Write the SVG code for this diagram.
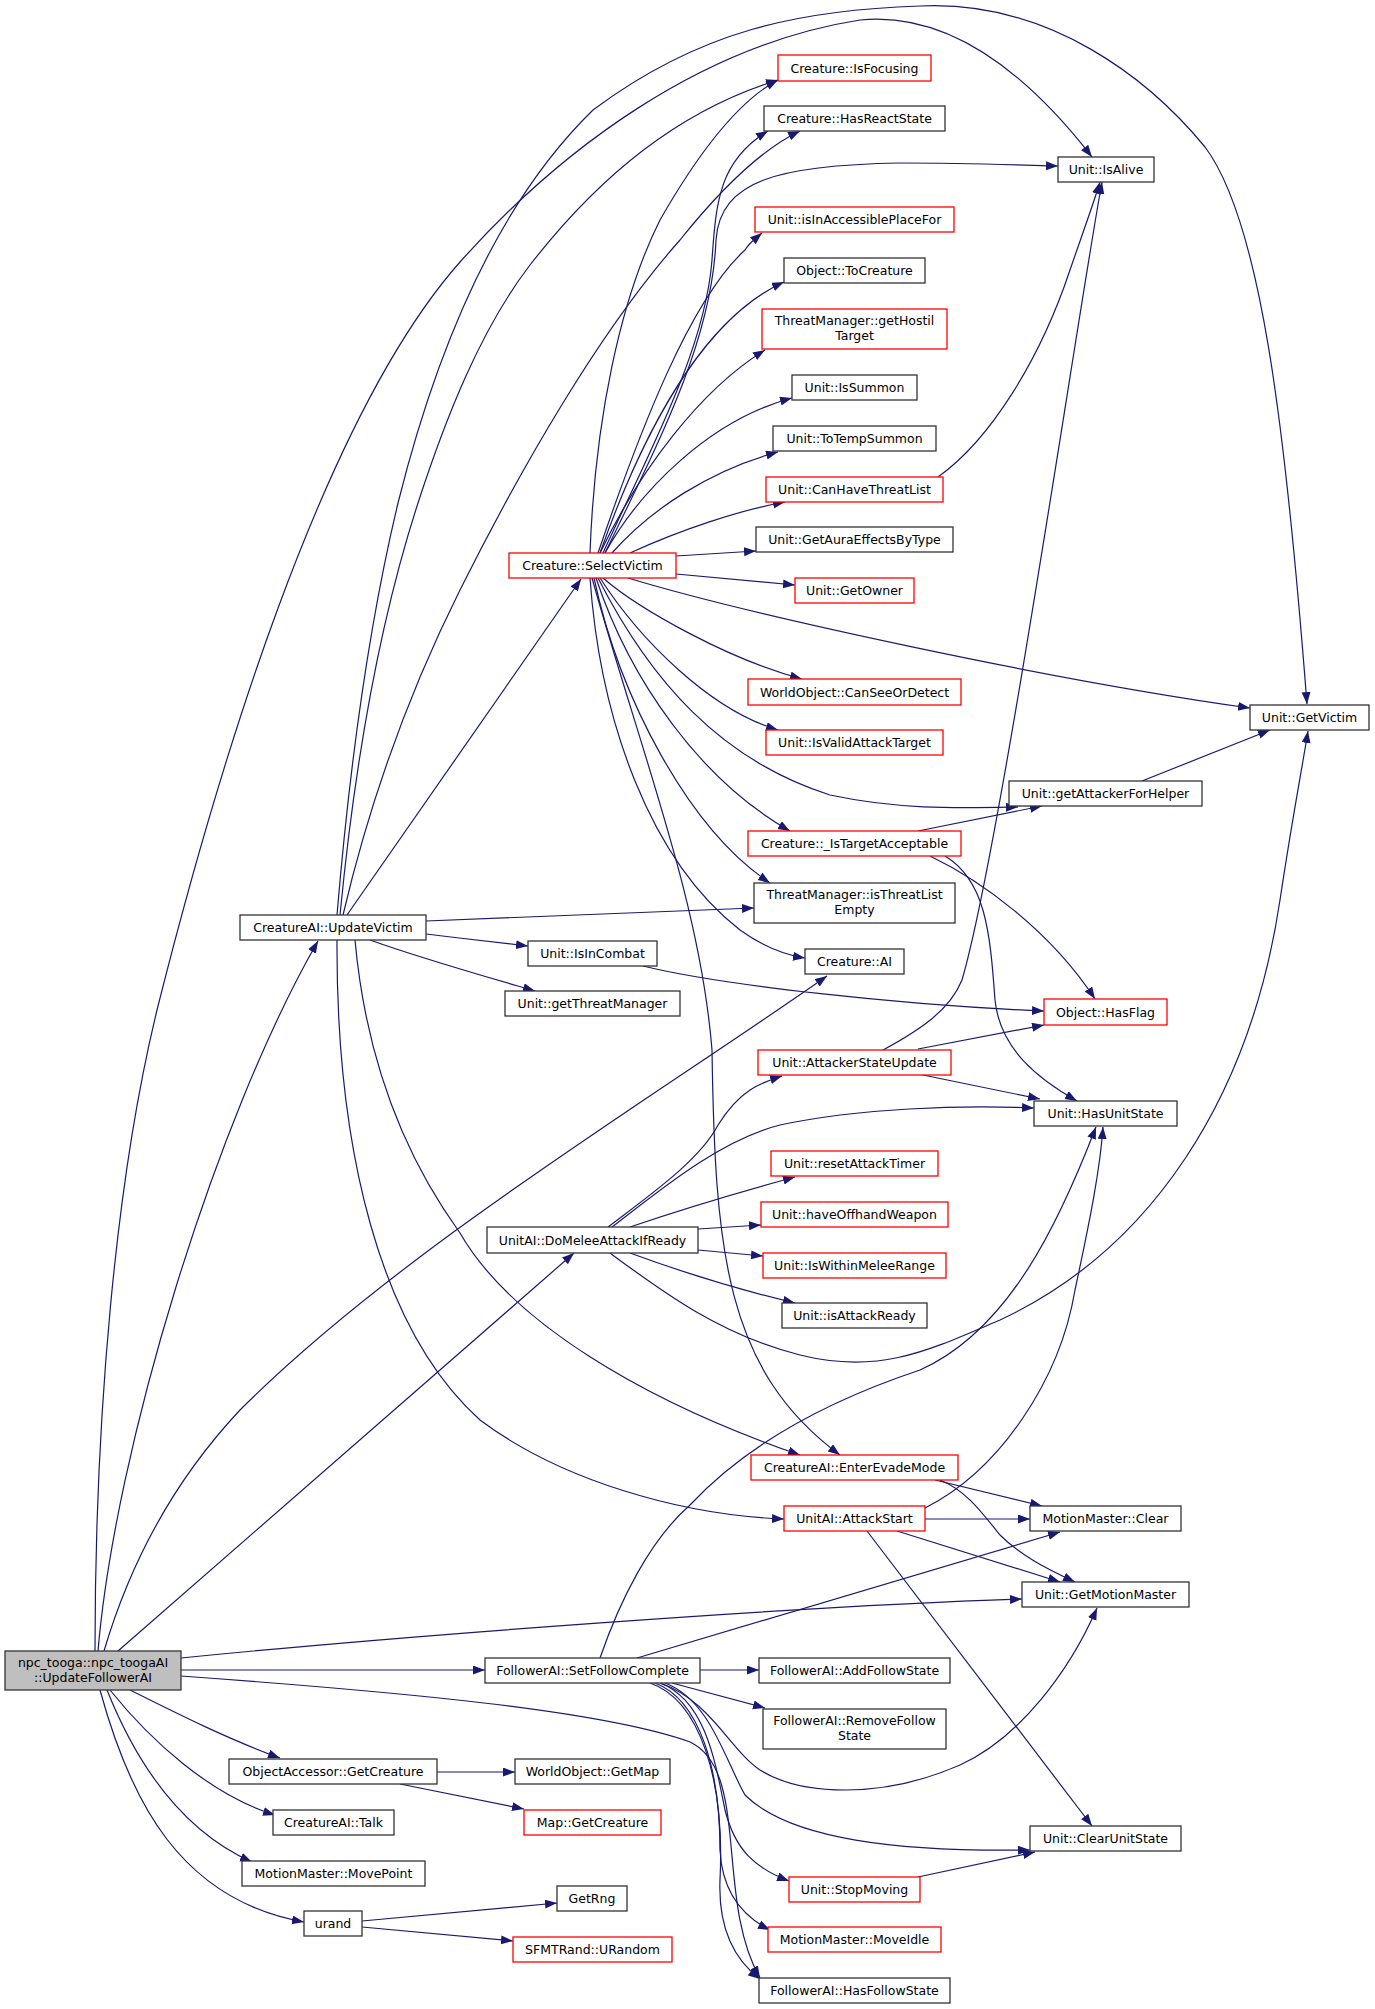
<svg xmlns="http://www.w3.org/2000/svg" width="1375" height="2009" viewBox="0 0 1375 2009">
<defs>
<style>
.nd rect{fill:#ffffff;stroke:#333333;stroke-width:1.3}
.rd rect{fill:#ffffff;stroke:#ff0000;stroke-width:1.3}
.root rect{fill:#bfbfbf;stroke:#333333;stroke-width:1.3}
text{font-family:"DejaVu Sans","Liberation Sans",sans-serif;font-size:12.5px;fill:#000000;text-anchor:middle}
.e path{fill:none;stroke:#191970;stroke-width:1.2;marker-end:url(#a)}
</style>
<marker id="a" markerUnits="userSpaceOnUse" markerWidth="13" markerHeight="10" refX="12" refY="4.5" orient="auto"><path d="M0,0 L12,4.5 L0,9 z" fill="#191970"/></marker>
</defs>
<rect x="0" y="0" width="1375" height="2009" fill="#ffffff"/>
<g class="e" id="edges">
<!-- root edges -->
<path d="M98,1651 C115,1450 215,1120 318,941"/>
<path d="M95,1651 C95,1420 115,1180 158,1006 C215,780 320,420 460,262 C560,150 700,45 860,20 C960,10 1040,90 1092,157"/>
<path d="M104,1651 C125,1580 165,1490 240,1410 C400,1250 650,1100 827,976"/>
<path d="M118,1651 L574,1253"/>
<path d="M181,1658 C400,1636 800,1606 1022,1599"/>
<path d="M181,1670 L485,1670"/>
<path d="M181,1676 C400,1692 600,1710 690,1742 C750,1770 715,1900 760,1978"/>
<path d="M130,1690 C180,1715 230,1740 280,1758"/>
<path d="M110,1690 C150,1740 210,1795 275,1815"/>
<path d="M107,1690 C135,1760 180,1830 252,1862"/>
<path d="M100,1690 C130,1800 180,1900 304,1922"/>
<!-- UpdateVictim edges -->
<path d="M337,915 C350,760 370,620 398,503 C425,395 480,220 593,110 C700,30 800,10 920,6 C1050,0 1150,80 1205,147 C1260,220 1285,420 1307,704"/>
<path d="M340,915 C355,760 380,620 418,503 C445,420 480,330 530,265 C600,175 680,110 778,80"/>
<path d="M343,915 C370,800 410,690 460,590 C520,470 600,330 680,240 C720,190 760,150 800,131"/>
<path d="M347,915 L581,579"/>
<path d="M426,921 L754,908"/>
<path d="M426,934 C460,938 500,943 528,946"/>
<path d="M370,940 C420,958 480,975 535,991"/>
<path d="M355,940 C365,1050 400,1150 460,1233 C510,1320 640,1400 800,1455"/>
<path d="M337,940 C336,1150 380,1330 480,1420 C560,1480 680,1515 784,1519"/>
<!-- SelectVictim edges -->
<path d="M590,553 C595,420 620,300 660,220 C700,150 740,100 778,80"/>
<path d="M603,553 C650,450 705,350 712,260 C716,200 720,160 768,131"/>
<path d="M605,553 C660,440 712,340 716,240 C720,180 780,165 900,163 C970,163 1020,165 1058,166"/>
<path d="M598,553 C640,430 690,300 745,250 C750,242 756,238 762,233"/>
<path d="M600,553 C640,440 700,320 784,282"/>
<path d="M600,553 C640,470 700,390 765,350"/>
<path d="M605,553 C640,490 710,420 792,398"/>
<path d="M612,553 C650,510 710,470 778,452"/>
<path d="M630,553 C680,530 740,510 785,502"/>
<path d="M676,556 L756,551"/>
<path d="M676,574 L795,585"/>
<path d="M628,578 C750,615 1050,680 1250,708"/>
<path d="M603,578 C640,610 730,660 802,679"/>
<path d="M600,578 C640,640 710,710 778,730"/>
<path d="M598,578 C650,680 720,760 830,795 C900,810 960,808 1018,807"/>
<path d="M596,578 C630,680 700,780 790,831"/>
<path d="M594,578 C620,700 690,830 770,883"/>
<path d="M590,578 C600,720 650,860 740,930 C765,948 785,955 805,958"/>
<path d="M592,578 C640,750 700,900 712,1050 C715,1250 725,1370 840,1455"/>
<!-- misc -->
<path d="M938,477 C990,440 1040,360 1070,270 C1082,235 1093,205 1100,182"/>
<path d="M883,1050 C920,1030 950,1010 962,980 C1000,850 1080,300 1102,182"/>
<path d="M1142,781 L1270,730"/>
<path d="M918,831 L1042,806"/>
<path d="M930,856 C980,880 1050,930 1095,999"/>
<path d="M945,856 C985,880 990,930 995,1000 C1000,1050 1040,1080 1077,1101"/>
<path d="M643,966 C720,985 900,1005 1044,1011"/>
<path d="M918,1049 L1044,1025"/>
<path d="M918,1074 L1040,1099"/>
<!-- DoMeleeAttackIfReady edges -->
<path d="M608,1227 C650,1195 700,1160 718,1125 C740,1090 760,1083 782,1076"/>
<path d="M612,1227 C660,1190 720,1140 780,1125 C860,1108 960,1105 1034,1108"/>
<path d="M630,1227 C680,1210 740,1192 795,1177"/>
<path d="M698,1229 L761,1225"/>
<path d="M698,1250 L763,1256"/>
<path d="M630,1253 C690,1275 740,1290 795,1303"/>
<path d="M610,1253 C660,1290 720,1335 800,1355 C880,1375 930,1350 1000,1320 C1150,1250 1250,1100 1280,900 C1292,820 1300,780 1308,731"/>
<!-- EnterEvadeMode / AttackStart -->
<path d="M935,1480 L1042,1506"/>
<path d="M940,1480 C965,1490 980,1510 1000,1535 C1020,1555 1045,1568 1075,1582"/>
<path d="M925,1519 L1030,1519"/>
<path d="M897,1531 L1060,1582"/>
<path d="M867,1531 L1092,1826"/>
<path d="M925,1508 C1000,1470 1060,1380 1075,1290 C1090,1220 1100,1170 1103,1127"/>
<!-- SetFollowComplete edges -->
<path d="M700,1670 L759,1670"/>
<path d="M672,1683 L765,1708"/>
<path d="M600,1658 C620,1600 650,1540 690,1505 C760,1430 860,1390 920,1370 C1010,1330 1060,1220 1096,1127"/>
<path d="M637,1658 L1060,1532"/>
<path d="M660,1683 C710,1700 730,1750 760,1770 C800,1795 880,1800 960,1765 C1020,1738 1070,1670 1097,1608"/>
<path d="M665,1683 C710,1700 725,1760 745,1795 C790,1840 900,1852 1030,1850"/>
<path d="M660,1683 C705,1700 715,1760 725,1810 C735,1850 755,1868 789,1881"/>
<path d="M655,1683 C700,1700 720,1770 720,1850 C722,1890 740,1915 770,1930"/>
<path d="M650,1683 C700,1700 725,1780 720,1880 C718,1930 735,1960 760,1979"/>
<path d="M918,1877 L1035,1852"/>
<!-- GetCreature / urand -->
<path d="M437,1772 L515,1772"/>
<path d="M400,1784 L524,1809"/>
<path d="M362,1921 L557,1903"/>
<path d="M362,1927 L513,1941"/>
</g>

<g id="root" class="root"><rect x="5" y="1651" width="176" height="39"/><text x="93" y="1667">npc_tooga::npc_toogaAI</text><text x="93" y="1681.5">::UpdateFollowerAI</text></g>
<g id="UpdateVictim" class="nd"><rect x="240" y="915" width="186" height="25"/><text x="333" y="932">CreatureAI::UpdateVictim</text></g>
<g id="SelectVictim" class="rd"><rect x="509" y="553" width="167" height="25"/><text x="592.5" y="570">Creature::SelectVictim</text></g>
<g id="IsFocusing" class="rd"><rect x="778" y="55" width="153" height="26"/><text x="854.5" y="72.5">Creature::IsFocusing</text></g>
<g id="HasReactState" class="nd"><rect x="764" y="106" width="181" height="25"/><text x="854.5" y="123">Creature::HasReactState</text></g>
<g id="IsAlive" class="nd"><rect x="1058" y="157" width="96" height="25"/><text x="1106" y="174">Unit::IsAlive</text></g>
<g id="isInAccessiblePlaceFor" class="rd"><rect x="755" y="207" width="199" height="25"/><text x="854.5" y="224">Unit::isInAccessiblePlaceFor</text></g>
<g id="ToCreature" class="nd"><rect x="784" y="258" width="141" height="25"/><text x="854.5" y="275">Object::ToCreature</text></g>
<g id="getHostilTarget" class="rd"><rect x="762" y="309" width="185" height="40"/><text x="854.5" y="325">ThreatManager::getHostil</text><text x="854.5" y="339.5">Target</text></g>
<g id="IsSummon" class="nd"><rect x="792" y="375" width="125" height="25"/><text x="854.5" y="392">Unit::IsSummon</text></g>
<g id="ToTempSummon" class="nd"><rect x="773" y="426" width="163" height="25"/><text x="854.5" y="443">Unit::ToTempSummon</text></g>
<g id="CanHaveThreatList" class="rd"><rect x="766" y="477" width="177" height="25"/><text x="854.5" y="494">Unit::CanHaveThreatList</text></g>
<g id="GetAuraEffectsByType" class="nd"><rect x="756" y="527" width="197" height="25"/><text x="854.5" y="544">Unit::GetAuraEffectsByType</text></g>
<g id="GetOwner" class="rd"><rect x="795" y="578" width="119" height="25"/><text x="854.5" y="595">Unit::GetOwner</text></g>
<g id="CanSeeOrDetect" class="rd"><rect x="748" y="679" width="213" height="26"/><text x="854.5" y="696.5">WorldObject::CanSeeOrDetect</text></g>
<g id="IsValidAttackTarget" class="rd"><rect x="766" y="730" width="177" height="25"/><text x="854.5" y="747">Unit::IsValidAttackTarget</text></g>
<g id="IsTargetAcceptable" class="rd"><rect x="748" y="831" width="213" height="25"/><text x="854.5" y="848">Creature::_IsTargetAcceptable</text></g>
<g id="isThreatListEmpty" class="nd"><rect x="754" y="883" width="201" height="40"/><text x="854.5" y="899">ThreatManager::isThreatList</text><text x="854.5" y="913.5">Empty</text></g>
<g id="CreatureAI" class="nd"><rect x="805" y="949" width="99" height="25"/><text x="854.5" y="966">Creature::AI</text></g>
<g id="HasFlag" class="rd"><rect x="1044" y="999" width="123" height="26"/><text x="1105.5" y="1016.5">Object::HasFlag</text></g>
<g id="GetVictim" class="nd"><rect x="1250" y="705" width="119" height="25"/><text x="1309.5" y="722">Unit::GetVictim</text></g>
<g id="getAttackerForHelper" class="nd"><rect x="1009" y="781" width="193" height="25"/><text x="1105.5" y="798">Unit::getAttackerForHelper</text></g>
<g id="IsInCombat" class="nd"><rect x="528" y="941" width="129" height="25"/><text x="592.5" y="958">Unit::IsInCombat</text></g>
<g id="getThreatManager" class="nd"><rect x="505" y="991" width="175" height="25"/><text x="592.5" y="1008">Unit::getThreatManager</text></g>
<g id="AttackerStateUpdate" class="rd"><rect x="758" y="1050" width="193" height="25"/><text x="854.5" y="1067">Unit::AttackerStateUpdate</text></g>
<g id="HasUnitState" class="nd"><rect x="1034" y="1101" width="143" height="25"/><text x="1105.5" y="1118">Unit::HasUnitState</text></g>
<g id="resetAttackTimer" class="rd"><rect x="771" y="1151" width="167" height="25"/><text x="854.5" y="1168">Unit::resetAttackTimer</text></g>
<g id="haveOffhandWeapon" class="rd"><rect x="761" y="1202" width="187" height="25"/><text x="854.5" y="1219">Unit::haveOffhandWeapon</text></g>
<g id="DoMeleeAttackIfReady" class="nd"><rect x="487" y="1227" width="211" height="26"/><text x="592.5" y="1244.5">UnitAI::DoMeleeAttackIfReady</text></g>
<g id="IsWithinMeleeRange" class="rd"><rect x="763" y="1253" width="183" height="25"/><text x="854.5" y="1270">Unit::IsWithinMeleeRange</text></g>
<g id="isAttackReady" class="nd"><rect x="782" y="1303" width="145" height="25"/><text x="854.5" y="1320">Unit::isAttackReady</text></g>
<g id="EnterEvadeMode" class="rd"><rect x="751" y="1455" width="207" height="25"/><text x="854.5" y="1472">CreatureAI::EnterEvadeMode</text></g>
<g id="AttackStart" class="rd"><rect x="784" y="1506" width="141" height="25"/><text x="854.5" y="1523">UnitAI::AttackStart</text></g>
<g id="MotionMasterClear" class="nd"><rect x="1030" y="1506" width="151" height="25"/><text x="1105.5" y="1523">MotionMaster::Clear</text></g>
<g id="GetMotionMaster" class="nd"><rect x="1022" y="1582" width="167" height="25"/><text x="1105.5" y="1599">Unit::GetMotionMaster</text></g>
<g id="SetFollowComplete" class="nd"><rect x="485" y="1658" width="215" height="25"/><text x="592.5" y="1675">FollowerAI::SetFollowComplete</text></g>
<g id="AddFollowState" class="nd"><rect x="759" y="1658" width="191" height="25"/><text x="854.5" y="1675">FollowerAI::AddFollowState</text></g>
<g id="RemoveFollowState" class="nd"><rect x="763" y="1709" width="183" height="40"/><text x="854.5" y="1725">FollowerAI::RemoveFollow</text><text x="854.5" y="1739.5">State</text></g>
<g id="OAGetCreature" class="nd"><rect x="229" y="1759" width="208" height="25"/><text x="333" y="1776">ObjectAccessor::GetCreature</text></g>
<g id="GetMap" class="nd"><rect x="515" y="1759" width="155" height="25"/><text x="592.5" y="1776">WorldObject::GetMap</text></g>
<g id="Talk" class="nd"><rect x="273" y="1810" width="121" height="25"/><text x="333.5" y="1827">CreatureAI::Talk</text></g>
<g id="MapGetCreature" class="rd"><rect x="524" y="1810" width="137" height="25"/><text x="592.5" y="1827">Map::GetCreature</text></g>
<g id="ClearUnitState" class="nd"><rect x="1030" y="1826" width="151" height="25"/><text x="1105.5" y="1843">Unit::ClearUnitState</text></g>
<g id="MovePoint" class="nd"><rect x="242" y="1861" width="183" height="25"/><text x="333.5" y="1878">MotionMaster::MovePoint</text></g>
<g id="StopMoving" class="rd"><rect x="789" y="1877" width="131" height="25"/><text x="854.5" y="1894">Unit::StopMoving</text></g>
<g id="GetRng" class="nd"><rect x="557" y="1886" width="70" height="25"/><text x="592" y="1903">GetRng</text></g>
<g id="urand" class="nd"><rect x="304" y="1911" width="58" height="25"/><text x="333" y="1928">urand</text></g>
<g id="MoveIdle" class="rd"><rect x="768" y="1927" width="173" height="25"/><text x="854.5" y="1944">MotionMaster::MoveIdle</text></g>
<g id="URandom" class="rd"><rect x="513" y="1937" width="159" height="25"/><text x="592.5" y="1954">SFMTRand::URandom</text></g>
<g id="HasFollowState" class="nd"><rect x="759" y="1978" width="191" height="25"/><text x="854.5" y="1995">FollowerAI::HasFollowState</text></g>
</svg>
